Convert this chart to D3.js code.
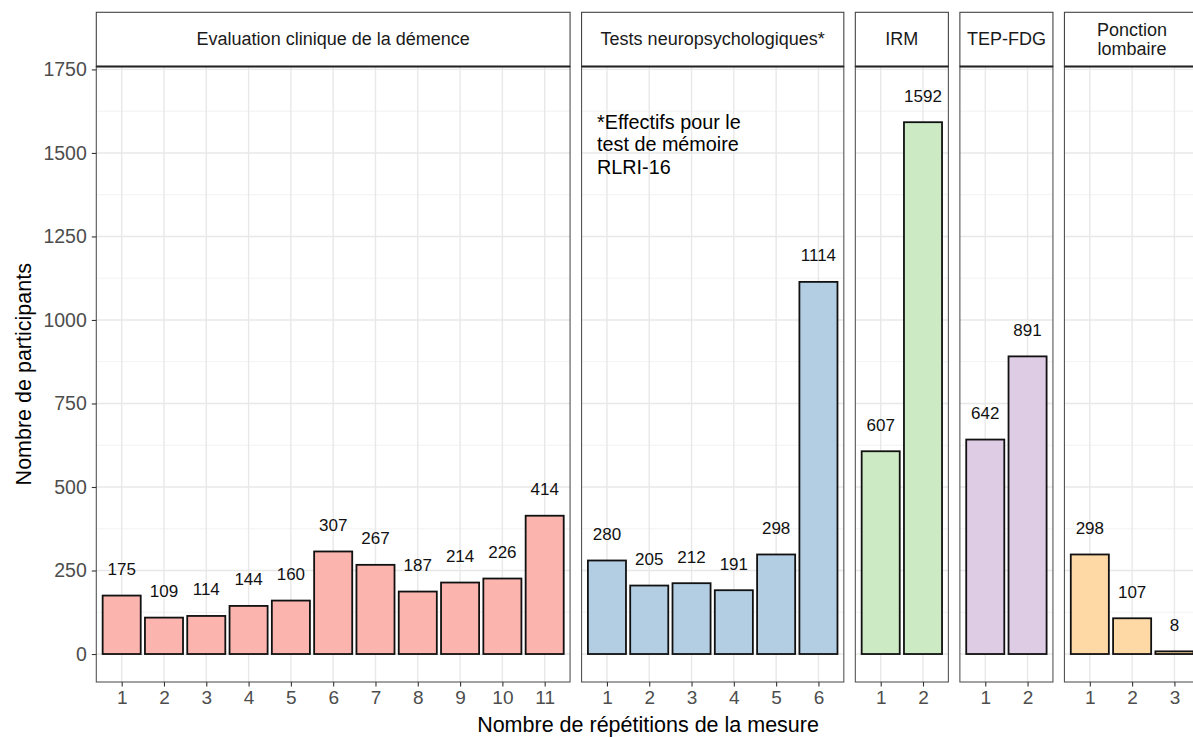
<!DOCTYPE html>
<html><head><meta charset="utf-8">
<script src="https://cdn.jsdelivr.net/npm/d3@7"></script>
<style>html,body{margin:0;padding:0;background:#fff;}svg{display:block;font-family:"Liberation Sans",Arial,sans-serif;}</style>
</head><body><svg id="chart" width="1193" height="737"></svg>
<script>
// ---- data ----
const panelTitles = [["Evaluation clinique de la démence"], ["Tests neuropsychologiques*"], ["IRM"], ["TEP-FDG"], ["Ponction", "lombaire"]];
const evalCategories = [1,2,3,4,5,6,7,8,9,10,11];
const evalValues = [175,109,114,144,160,307,267,187,214,226,414];
const testsCategories = [1,2,3,4,5,6];
const testsValues = [280,205,212,191,298,1114];
const irmCategories = [1,2];
const irmValues = [607,1592];
const tepCategories = [1,2];
const tepValues = [642,891];
const ponctionCategories = [1,2,3];
const ponctionValues = [298,107,8];
const panelColors = ["#FBB4AE","#B3CDE3","#CCEBC5","#DECBE4","#FED9A6"];
const yTicks = [0,250,500,750,1000,1250,1500,1750];
const yMinor = [125,375,625,875,1125,1375,1625];
const annotationLines = ["*Effectifs pour le","test de mémoire","RLRI-16"];
const xTitle = "Nombre de répétitions de la mesure";
const yTitle = "Nombre de participants";

const panels = [
  {cats: evalCategories, vals: evalValues},
  {cats: testsCategories, vals: testsValues},
  {cats: irmCategories, vals: irmValues},
  {cats: tepCategories, vals: tepValues},
  {cats: ponctionCategories, vals: ponctionValues}
];

// ---- layout ----
const svg = d3.select("#chart");
const unit = 42.3, gap = 11.5, left0 = 96.3;
const panelTop = 66.5, panelBottom = 682, stripTop = 12.3;
const y = d3.scaleLinear().domain([-83.75, 1758.75]).range([panelBottom, panelTop]);

let xPos = left0;
panels.forEach((p, i) => {
  const n = p.cats.length;
  const w = (n - 1 + 1.2) * unit;
  p.x0 = xPos; p.x1 = xPos + w;
  p.x = d3.scaleLinear().domain([p.cats[0] - 0.6, p.cats[n-1] + 0.6]).range([p.x0, p.x1]);
  xPos = p.x1 + gap;
});

panels.forEach((p, i) => {
  const g = svg.append("g");
  g.append("rect").attr("x", p.x0).attr("y", panelTop).attr("width", p.x1 - p.x0).attr("height", panelBottom - panelTop).attr("fill", "#fff");
  g.selectAll(".ymin").data(yMinor).join("line")
    .attr("x1", p.x0).attr("x2", p.x1).attr("y1", d => y(d)).attr("y2", d => y(d))
    .attr("stroke", "#F0F0F0").attr("stroke-width", 0.9);
  g.selectAll(".ymaj").data(yTicks).join("line")
    .attr("x1", p.x0).attr("x2", p.x1).attr("y1", d => y(d)).attr("y2", d => y(d))
    .attr("stroke", "#E8E8E8").attr("stroke-width", 1.4);
  g.selectAll(".xmaj").data(p.cats).join("line")
    .attr("x1", d => p.x(d)).attr("x2", d => p.x(d)).attr("y1", panelTop).attr("y2", panelBottom)
    .attr("stroke", "#E8E8E8").attr("stroke-width", 1.4);
  g.selectAll(".bar").data(p.cats.map((c, j) => ({c, v: p.vals[j]}))).join("rect")
    .attr("x", d => p.x(d.c - 0.45)).attr("width", d => p.x(d.c + 0.45) - p.x(d.c - 0.45))
    .attr("y", d => y(d.v)).attr("height", d => y(0) - y(d.v))
    .attr("fill", panelColors[i]).attr("stroke", "#111").attr("stroke-width", 1.8);
  g.selectAll(".lab").data(p.cats.map((c, j) => ({c, v: p.vals[j]}))).join("text")
    .attr("x", d => p.x(d.c)).attr("y", d => y(d.v + 78))
    .attr("text-anchor", "middle").attr("dominant-baseline", "central")
    .attr("font-size", 17).attr("fill", "#111").text(d => d.v);
  g.append("rect").attr("x", p.x0).attr("y", panelTop).attr("width", p.x1 - p.x0).attr("height", panelBottom - panelTop)
    .attr("fill", "none").attr("stroke", "#555").attr("stroke-width", 1.1);
  g.append("rect").attr("x", p.x0).attr("y", stripTop).attr("width", p.x1 - p.x0).attr("height", panelTop - stripTop)
    .attr("fill", "#fff").attr("stroke", "#444").attr("stroke-width", 1.1);
  g.append("line").attr("x1", p.x0).attr("x2", p.x1).attr("y1", panelTop).attr("y2", panelTop)
    .attr("stroke", "#222").attr("stroke-width", 1.8);
  const lines = panelTitles[i];
  const cx = (p.x0 + p.x1) / 2, cy = (stripTop + panelTop) / 2;
  lines.forEach((t, k) => {
    g.append("text").attr("x", cx).attr("y", cy + (k - (lines.length - 1) / 2) * 19.5)
      .attr("text-anchor", "middle").attr("dominant-baseline", "central")
      .attr("font-size", 18).attr("fill", "#1A1A1A").text(t);
  });
  const ax = svg.append("g").attr("transform", `translate(0,${panelBottom})`)
    .call(d3.axisBottom(p.x).tickValues(p.cats).tickSize(4.5).tickPadding(4).tickFormat(d3.format("d")));
  ax.select(".domain").remove();
  ax.selectAll(".tick line").attr("stroke", "#333").attr("stroke-width", 1.1);
  ax.selectAll(".tick text").attr("font-size", 19).attr("fill", "#4D4D4D").attr("font-family", "Liberation Sans, Arial, sans-serif");
});

const ay = svg.append("g").attr("transform", `translate(${left0},0)`)
  .call(d3.axisLeft(y).tickValues(yTicks).tickSize(4.5).tickPadding(5).tickFormat(d3.format("d")));
ay.select(".domain").remove();
ay.selectAll(".tick line").attr("stroke", "#333").attr("stroke-width", 1.1);
ay.selectAll(".tick text").attr("font-size", 19.5).attr("fill", "#4D4D4D").attr("font-family", "Liberation Sans, Arial, sans-serif");

annotationLines.forEach((t, k) => {
  svg.append("text").attr("x", 597).attr("y", 121.7 + k * 22.5).attr("dominant-baseline", "central")
    .attr("font-size", 19.8).attr("fill", "#000").text(t);
});

const plotMid = (panels[0].x0 + panels[panels.length - 1].x1) / 2;
svg.append("text").attr("x", plotMid).attr("y", 731.5).attr("text-anchor", "middle")
  .attr("font-size", 21.5).attr("fill", "#000").text(xTitle);
svg.append("text").attr("transform", `translate(31,${(panelTop + panelBottom) / 2}) rotate(-90)`)
  .attr("text-anchor", "middle")
  .attr("font-size", 21.5).attr("fill", "#000").text(yTitle);
</script></body></html>
